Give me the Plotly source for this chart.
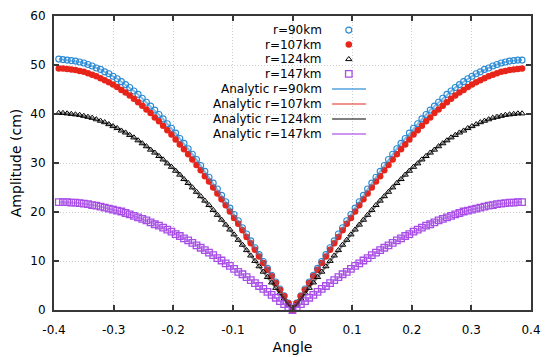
import plotly.graph_objects as go

# angle grid (shared by every series)
angle = [
    -0.392, -0.385, -0.378, -0.371, -0.364, -0.357, -0.350, -0.343, -0.336, -0.329,
    -0.322, -0.315, -0.308, -0.301, -0.294, -0.287, -0.280, -0.273, -0.266, -0.259,
    -0.252, -0.245, -0.238, -0.231, -0.224, -0.217, -0.210, -0.203, -0.196, -0.189,
    -0.182, -0.175, -0.168, -0.161, -0.154, -0.147, -0.140, -0.133, -0.126, -0.119,
    -0.112, -0.105, -0.098, -0.091, -0.084, -0.077, -0.070, -0.063, -0.056, -0.049,
    -0.042, -0.035, -0.028, -0.021, -0.014, -0.007, 0.000,
    0.007, 0.014, 0.021, 0.028, 0.035, 0.042, 0.049, 0.056, 0.063, 0.070,
    0.077, 0.084, 0.091, 0.098, 0.105, 0.112, 0.119, 0.126, 0.133, 0.140,
    0.147, 0.154, 0.161, 0.168, 0.175, 0.182, 0.189, 0.196, 0.203, 0.210,
    0.217, 0.224, 0.231, 0.238, 0.245, 0.252, 0.259, 0.266, 0.273, 0.280,
    0.287, 0.294, 0.301, 0.308, 0.315, 0.322, 0.329, 0.336, 0.343, 0.350,
    0.357, 0.364, 0.371, 0.378, 0.385,
]

amp_90 = [
    51.2, 51.1, 51.0, 50.9, 50.8, 50.6, 50.4, 50.1, 49.8, 49.4,
    49.1, 48.6, 48.2, 47.7, 47.2, 46.6, 46.0, 45.4, 44.7, 44.0,
    43.2, 42.4, 41.6, 40.8, 39.9, 39.0, 38.0, 37.1, 36.1, 35.0,
    34.0, 32.9, 31.8, 30.7, 29.5, 28.3, 27.1, 25.9, 24.7, 23.4,
    22.1, 20.8, 19.5, 18.2, 16.8, 15.5, 14.1, 12.7, 11.3, 9.9,
    8.5, 7.1, 5.7, 4.3, 2.9, 1.4, 0.0,
    1.4, 2.9, 4.3, 5.7, 7.1, 8.5, 9.9, 11.3, 12.7, 14.1,
    15.5, 16.8, 18.2, 19.5, 20.8, 22.1, 23.4, 24.7, 25.9, 27.1,
    28.3, 29.5, 30.7, 31.8, 32.9, 34.0, 35.0, 36.1, 37.1, 38.0,
    39.0, 39.9, 40.8, 41.6, 42.4, 43.2, 44.0, 44.7, 45.4, 46.0,
    46.6, 47.2, 47.7, 48.2, 48.6, 49.1, 49.4, 49.8, 50.1, 50.4,
    50.6, 50.8, 50.9, 51.0, 51.0,
]

amp_107 = [
    49.3, 49.3, 49.2, 49.1, 49.0, 48.8, 48.6, 48.3, 48.0, 47.7,
    47.3, 46.9, 46.5, 46.0, 45.5, 44.9, 44.4, 43.8, 43.1, 42.4,
    41.7, 40.9, 40.2, 39.3, 38.5, 37.6, 36.7, 35.8, 34.8, 33.8,
    32.8, 31.8, 30.7, 29.6, 28.5, 27.3, 26.2, 25.0, 23.8, 22.6,
    21.4, 20.1, 18.8, 17.6, 16.3, 14.9, 13.6, 12.3, 10.9, 9.6,
    8.2, 6.9, 5.5, 4.1, 2.8, 1.4, 0.0,
    1.4, 2.8, 4.1, 5.5, 6.9, 8.2, 9.6, 10.9, 12.3, 13.6,
    14.9, 16.3, 17.6, 18.8, 20.1, 21.4, 22.6, 23.8, 25.0, 26.2,
    27.3, 28.5, 29.6, 30.7, 31.8, 32.8, 33.8, 34.8, 35.8, 36.7,
    37.6, 38.5, 39.3, 40.2, 40.9, 41.7, 42.4, 43.1, 43.8, 44.4,
    44.9, 45.5, 46.0, 46.5, 46.9, 47.3, 47.7, 48.0, 48.3, 48.6,
    48.8, 49.0, 49.1, 49.2, 49.3,
]

amp_124 = [
    40.2, 40.2, 40.1, 40.0, 39.9, 39.8, 39.6, 39.4, 39.2, 38.9,
    38.6, 38.3, 37.9, 37.5, 37.1, 36.6, 36.2, 35.7, 35.2, 34.6,
    34.0, 33.4, 32.7, 32.1, 31.4, 30.7, 29.9, 29.2, 28.4, 27.6,
    26.7, 25.9, 25.0, 24.1, 23.2, 22.3, 21.4, 20.4, 19.4, 18.4,
    17.4, 16.4, 15.4, 14.3, 13.3, 12.2, 11.1, 10.0, 8.9, 7.8,
    6.7, 5.6, 4.5, 3.4, 2.3, 1.1, 0.0,
    1.1, 2.3, 3.4, 4.5, 5.6, 6.7, 7.8, 8.9, 10.0, 11.1,
    12.2, 13.3, 14.3, 15.4, 16.4, 17.4, 18.4, 19.4, 20.4, 21.4,
    22.3, 23.2, 24.1, 25.0, 25.9, 26.7, 27.6, 28.4, 29.2, 29.9,
    30.7, 31.4, 32.1, 32.7, 33.4, 34.0, 34.6, 35.2, 35.7, 36.2,
    36.6, 37.1, 37.5, 37.9, 38.3, 38.6, 38.9, 39.2, 39.4, 39.6,
    39.8, 39.9, 40.0, 40.1, 40.1,
]

amp_147 = [
    22.0, 22.0, 22.0, 21.9, 21.9, 21.8, 21.7, 21.6, 21.4, 21.3,
    21.1, 20.9, 20.7, 20.5, 20.3, 20.1, 19.8, 19.5, 19.2, 18.9,
    18.6, 18.3, 17.9, 17.5, 17.2, 16.8, 16.4, 16.0, 15.5, 15.1,
    14.6, 14.2, 13.7, 13.2, 12.7, 12.2, 11.7, 11.2, 10.6, 10.1,
    9.5, 9.0, 8.4, 7.8, 7.3, 6.7, 6.1, 5.5, 4.9, 4.3,
    3.7, 3.1, 2.5, 1.8, 1.2, 0.6, 0.0,
    0.6, 1.2, 1.8, 2.5, 3.1, 3.7, 4.3, 4.9, 5.5, 6.1,
    6.7, 7.3, 7.8, 8.4, 9.0, 9.5, 10.1, 10.6, 11.2, 11.7,
    12.2, 12.7, 13.2, 13.7, 14.2, 14.6, 15.1, 15.5, 16.0, 16.4,
    16.8, 17.2, 17.5, 17.9, 18.3, 18.6, 18.9, 19.2, 19.5, 19.8,
    20.1, 20.3, 20.5, 20.7, 20.9, 21.1, 21.3, 21.4, 21.6, 21.7,
    21.8, 21.9, 21.9, 22.0, 22.0,
]

x_ticks = [-0.4, -0.3, -0.2, -0.1, 0.0, 0.1, 0.2, 0.3, 0.4]
x_ticktext = ["-0.4", "-0.3", "-0.2", "-0.1", "0", "0.1", "0.2", "0.3", "0.4"]
y_ticks = [0, 10, 20, 30, 40, 50, 60]

point_names = ["r=90km", "r=107km", "r=124km", "r=147km"]
line_names = ["Analytic r=90km", "Analytic r=107km", "Analytic r=124km", "Analytic r=147km"]

FONT = "DejaVu Sans"
FSIZE = 12
AXIS = "#383838"

# marker styles: (symbol, colour, size, outline width)
marker_styles = [
    ("circle-open", "#2a8ad4", 6, 1.1),
    ("circle", "#e8251a", 6.5, 0),
    ("triangle-up-open", "#000000", 5.5, 1),
    ("square-open", "#a84ee6", 6.5, 1.3),
]
line_colors = [
    "rgba(42,138,212,0.6)",
    "rgba(232,37,26,0.5)",
    "rgba(0,0,0,0.5)",
    "rgba(168,78,230,0.6)",
]
series = [amp_90, amp_107, amp_124, amp_147]

fig = go.Figure()

# simulated points
for amp, (sym, col, size, lw) in zip(series, marker_styles):
    fig.add_trace(go.Scatter(
        x=angle, y=amp, mode="markers", showlegend=False, cliponaxis=False,
        marker=dict(symbol=sym, color=col, size=size, line=dict(color=col, width=lw))))

# analytic curves drawn on top, as gnuplot does
for amp, col in zip(series, line_colors):
    fig.add_trace(go.Scatter(
        x=angle, y=amp, mode="lines", showlegend=False,
        line=dict(color=col, width=2)))

# key, gnuplot style: right-aligned text with the sample to its right
key_rows = [0.952, 0.903, 0.853, 0.803, 0.752, 0.701, 0.650, 0.599]
key_text_x = 0.566
key_sample_x = 0.618

for i, name in enumerate(point_names + line_names):
    fig.add_annotation(
        x=key_text_x, y=key_rows[i], xref="paper", yref="paper",
        text=name, showarrow=False, xanchor="right", yanchor="middle",
        font=dict(family=FONT, size=FSIZE, color="#000000"))

for i, (sym, col, size, lw) in enumerate(marker_styles):
    fig.add_trace(go.Scatter(
        x=[key_sample_x], y=[key_rows[i]], xaxis="x2", yaxis="y2",
        mode="markers", showlegend=False, hoverinfo="skip",
        marker=dict(symbol=sym, color=col, size=size, line=dict(color=col, width=lw))))

for i, col in enumerate(line_colors):
    fig.add_shape(type="line", xref="paper", yref="paper",
                  x0=0.583, x1=0.654, y0=key_rows[4 + i], y1=key_rows[4 + i],
                  line=dict(color=col, width=2), layer="above")

# opaque key box hides the grid behind it
fig.add_shape(type="rect", xref="paper", yref="paper",
              x0=0.333, x1=0.664, y0=0.575, y1=1.0,
              fillcolor="white", line=dict(width=0), layer="between")

axis_common = dict(
    showline=True, linecolor=AXIS, linewidth=2, mirror="ticks",
    ticks="inside", ticklen=5, tickwidth=1.5, tickcolor=AXIS,
    showgrid=True, gridcolor="#cccccc", griddash="1px,2px", gridwidth=1,
    zeroline=False, automargin=False,
    tickfont=dict(family=FONT, size=FSIZE, color="#000000"),
)

# the page body has an 8px margin, so the figure is 8px smaller and
# its own margins are trimmed to keep the plot box where the reference has it
fig.update_layout(
    width=544, height=349,
    margin=dict(l=46, r=21, t=8, b=47),
    paper_bgcolor="white", plot_bgcolor="white",
    font=dict(family=FONT, size=FSIZE, color="#000000"),
    xaxis=dict(range=[-0.4, 0.4], tickvals=x_ticks, ticktext=x_ticktext,
               ticklabelstandoff=8,
               title=dict(text="Angle", standoff=6), **axis_common),
    yaxis=dict(range=[0, 60], tickvals=y_ticks, ticklabelstandoff=4,
               title=dict(text="Amplitude (cm)", standoff=20), **axis_common),
    xaxis2=dict(range=[0, 1], overlaying="x", visible=False),
    yaxis2=dict(range=[0, 1], overlaying="y", visible=False),
)

fig.write_html("out.html")
